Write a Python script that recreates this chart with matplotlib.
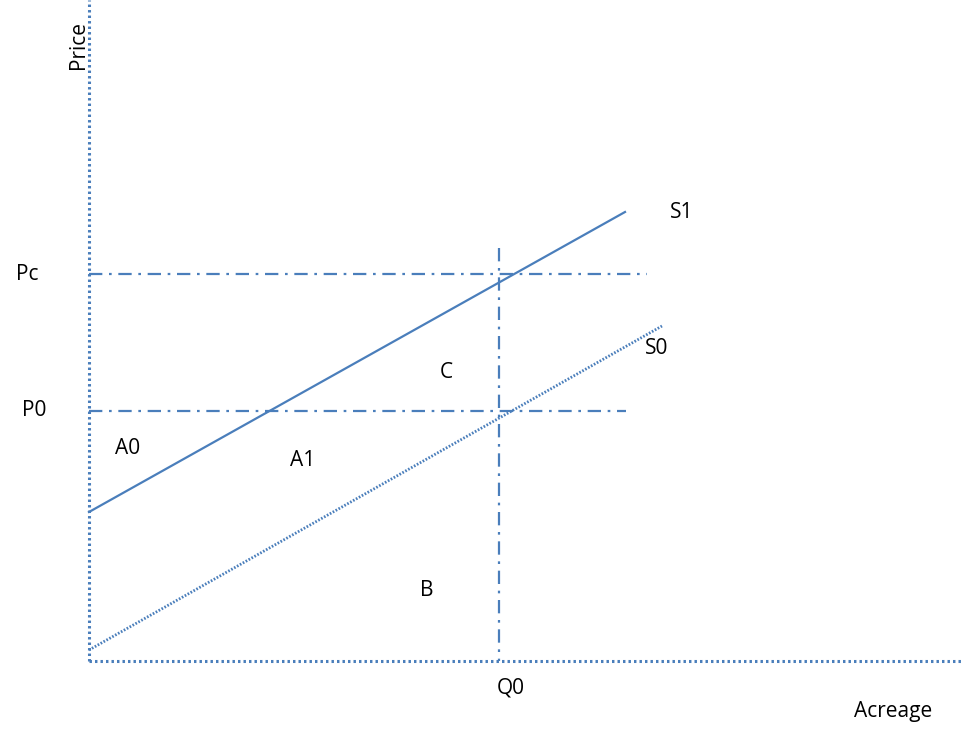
import matplotlib
matplotlib.use("Agg")
import matplotlib.pyplot as plt

# Diagram data (units: origin at the axes corner)
s1_x = [0, 536]
s1_y = [149, 449]
s0_x = [0, 573]
s0_y = [11, 335]
price_levels = {"Pc": 387, "P0": 250}
price_line_ends = {"Pc": 558, "P0": 537}
q0_x = 410
q0_top = 413
x_axis_end = 873
y_axis_top = 661

area_labels = ["A0", "A1", "C", "B"]
area_x = [39, 214, 357, 338]
area_y = [213, 200, 288, 71]

color = "#4A7EBB"
plt.rcParams['font.family'] = ['Open Sans', 'DejaVu Sans']

fig = plt.figure(figsize=(9.63, 7.40), dpi=100)
ax = fig.add_axes([0, 0, 1, 1])
ax.set_xlim(-89, 874)
ax.set_ylim(-79, 661)
ax.axis("off")

# axes (dotted)
ax.plot([0, x_axis_end], [0, 0], color=color, lw=2.2, linestyle=(0, (0.8, 1.0)), solid_capstyle='butt')
ax.plot([0, 0], [0, y_axis_top], color=color, lw=2.2, linestyle=(0, (0.8, 1.0)), solid_capstyle='butt')

# supply curves
ax.plot(s1_x, s1_y, color=color, lw=1.6)
ax.plot(s0_x, s0_y, color=color, lw=2.0, linestyle=(0, (0.6, 0.6)))

# price lines
dd = (0, (6, 3, 1.2, 3))
for k in ["Pc", "P0"]:
    ax.plot([0, price_line_ends[k]], [price_levels[k]] * 2, color=color, lw=1.6, linestyle=dd)
ax.plot([q0_x, q0_x], [q0_top, 0], color=color, lw=1.6, linestyle=dd)

fs = 15
ax.text(-62, price_levels["Pc"], "Pc", fontsize=fs, ha="center", va="center")
ax.text(-55, price_levels["P0"], "P0", fontsize=fs, ha="center", va="center")
ax.text(q0_x + 12, -27, "Q0", fontsize=fs, ha="center", va="center")
ax.text(804, -50, "Acreage", fontsize=fs, ha="center", va="center")
ax.text(-11, 616, "Price", fontsize=fs, ha="center", va="center", rotation=90)
ax.text(593, 449, "S1", fontsize=fs, ha="center", va="center")
ax.text(568, 312, "S0", fontsize=fs, ha="center", va="center")
for lab, x, y in zip(area_labels, area_x, area_y):
    ax.text(x, y, lab, fontsize=fs, ha="center", va="center")

fig.savefig("out.png", dpi=100)
